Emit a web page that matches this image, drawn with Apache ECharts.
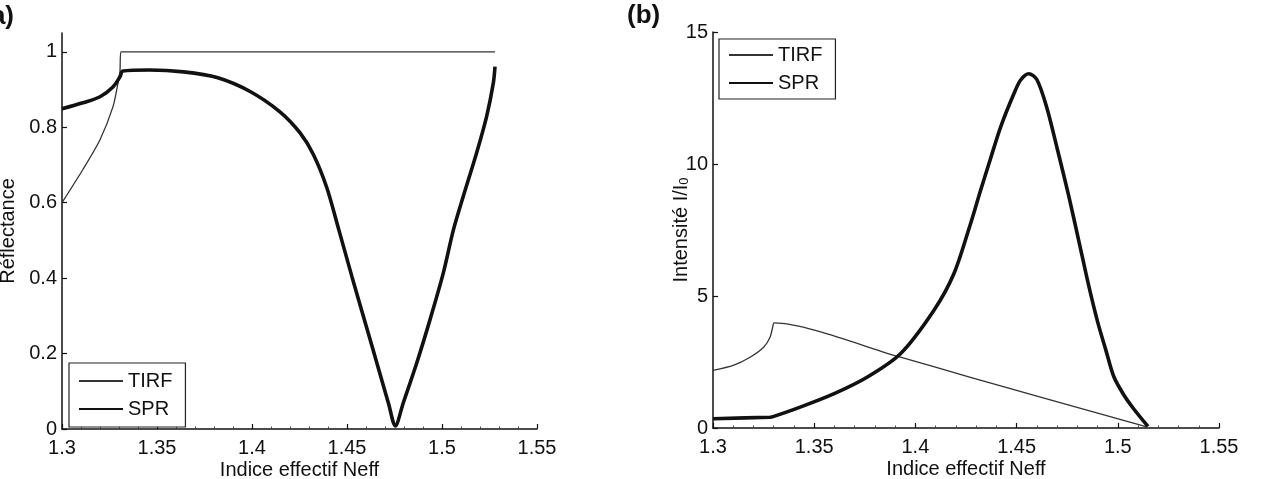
<!DOCTYPE html>
<html>
<head>
<meta charset="utf-8">
<script src="https://cdn.jsdelivr.net/npm/echarts@6/dist/echarts.min.js"></script>
<style>
html,body{margin:0;padding:0;background:#fff;}
#chart{width:1270px;height:479px;}
</style>
</head>
<body>
<div id="chart"></div>
<script>
// Panel (a): Réflectance
var tirfA_x = [1.300, 1.311, 1.320, 1.3268, 1.3295, 1.3305, 1.331, 1.400, 1.5279];
var tirfA_y = [0.600, 0.688, 0.767, 0.854, 0.918, 0.947, 1.000, 1.000, 1.000];
var sprA_x = [1.300, 1.311, 1.320, 1.3268, 1.3305, 1.332, 1.346, 1.364, 1.3816, 1.399, 1.4147, 1.4253, 1.4323, 1.4393, 1.4456, 1.4526, 1.4596, 1.4667, 1.4720, 1.4754, 1.4796, 1.4867, 1.4937, 1.5007, 1.5060, 1.5112, 1.5182, 1.5235, 1.5270, 1.5279];
var sprA_y = [0.849, 0.865, 0.881, 0.907, 0.934, 0.949, 0.952, 0.947, 0.932, 0.895, 0.841, 0.785, 0.728, 0.641, 0.530, 0.404, 0.282, 0.158, 0.065, 0.008, 0.069, 0.175, 0.290, 0.414, 0.528, 0.617, 0.732, 0.829, 0.917, 0.961];
// Panel (b): Intensité
var tirfB_x = [1.300, 1.310, 1.3183, 1.325, 1.3282, 1.3295, 1.3302, 1.3926, 1.4272, 1.5139];
var tirfB_y = [2.18, 2.37, 2.68, 3.06, 3.44, 3.82, 3.98, 2.68, 1.92, 0.05];
var sprB_x = [1.300, 1.3282, 1.3297, 1.3431, 1.3596, 1.3761, 1.3926, 1.4091, 1.4190, 1.4272, 1.4320, 1.4371, 1.4421, 1.4486, 1.4520, 1.4560, 1.4600, 1.4649, 1.4703, 1.4757, 1.4807, 1.4856, 1.4901, 1.4941, 1.4980, 1.5030, 1.5079, 1.5149];
var sprB_y = [0.35, 0.41, 0.43, 0.79, 1.29, 1.92, 2.81, 4.45, 5.84, 7.73, 8.95, 10.20, 11.40, 12.65, 13.18, 13.42, 13.20, 12.14, 10.51, 8.81, 7.10, 5.40, 4.00, 2.95, 1.95, 1.25, 0.72, 0.06];

var xTicks = [1.3, 1.35, 1.4, 1.45, 1.5, 1.55];
var yTicksA = [0, 0.2, 0.4, 0.6, 0.8, 1];
var yTicksB = [0, 5, 10, 15];
var seriesNames = ['TIRF', 'SPR'];

function pairs(xs, ys){ return xs.map(function(x,i){ return [x, ys[i]]; }); }

var FONT = 'Liberation Sans, Arial, Helvetica, sans-serif';
var INK = '#111';
var FS = 20;

function xAxis(gi){
  return {
    type:'value', gridIndex:gi, min:1.3, max:1.55, interval:0.05,
    axisLine:{lineStyle:{color:INK, width:1.5}},
    axisTick:{inside:true, length:5, lineStyle:{color:INK, width:1.2}},
    minorTick:{show:true, splitNumber:5, length:2.5, lineStyle:{color:'#444', width:1}},
    splitLine:{show:false},
    axisLabel:{fontSize:FS, color:INK, fontFamily:FONT, margin:9,
      formatter:function(v){ return String(+(+v).toFixed(2)); }},
    name:'Indice effectif Neff', nameLocation:'middle', nameGap:31, nameMoveOverlap:false,
    nameTextStyle:{fontSize:FS, color:INK, fontFamily:FONT}
  };
}

var option = {
  animation:false,
  backgroundColor:'#fff',
  textStyle:{fontFamily:FONT},
  grid:[
    {left:62, top:33, width:475, height:396, outerBoundsMode:'none', containLabel:false},
    {left:713, top:32, width:506, height:396, outerBoundsMode:'none', containLabel:false}
  ],
  xAxis:[xAxis(0), xAxis(1)],
  yAxis:[
    {type:'value', gridIndex:0, min:0, max:1.05,
     axisLine:{show:true, lineStyle:{color:INK, width:1.5}},
     axisTick:{show:true, inside:true, length:5, customValues:yTicksA, lineStyle:{color:INK, width:1.2}},
     splitLine:{show:false},
     axisLabel:{fontSize:FS, color:INK, fontFamily:FONT, margin:5, customValues:yTicksA,
       formatter:function(v){ return String(+(+v).toFixed(2)); }},
     name:'Réflectance', nameLocation:'middle', nameGap:44, nameMoveOverlap:false,
     nameTextStyle:{fontSize:FS, color:INK, fontFamily:FONT}},
    {type:'value', gridIndex:1, min:0, max:15, interval:5,
     axisLine:{show:true, lineStyle:{color:INK, width:1.5}},
     axisTick:{show:true, inside:true, length:5, customValues:yTicksB, lineStyle:{color:INK, width:1.2}},
     splitLine:{show:false},
     axisLabel:{fontSize:FS, color:INK, fontFamily:FONT, margin:5, customValues:yTicksB},
     name:'Intensité I/I{s|0}', nameLocation:'middle', nameGap:22, nameMoveOverlap:false,
     nameTextStyle:{fontSize:FS, color:INK, fontFamily:FONT,
       rich:{s:{fontSize:13, color:INK, fontFamily:FONT, verticalAlign:'bottom', padding:[6,0,0,0]}}}}
  ],
  legend:[
    {left:69, top:363, orient:'vertical', data:seriesNames, itemWidth:44, itemHeight:14, itemGap:8,
     padding:[8,13,8,9], borderColor:'#222', borderWidth:1.2, backgroundColor:'#fff',
     itemStyle:{color:'rgba(0,0,0,0)', borderWidth:0, opacity:0},
     textStyle:{fontSize:FS, color:INK, fontFamily:FONT}, selectedMode:false},
    {left:719, top:39, orient:'vertical', data:seriesNames, itemWidth:44, itemHeight:14, itemGap:8,
     padding:[6,13,6,9], borderColor:'#222', borderWidth:1.2, backgroundColor:'#fff',
     itemStyle:{color:'rgba(0,0,0,0)', borderWidth:0, opacity:0},
     textStyle:{fontSize:FS, color:INK, fontFamily:FONT}, selectedMode:false}
  ],
  graphic:[
    {type:'text', right:1270-14, top:4, style:{text:'(a)', font:'bold 26px ' + FONT, fill:INK}},
    {type:'text', left:627, top:3, style:{text:'(b)', font:'bold 26px ' + FONT, fill:INK}}
  ],
  series:[
    {name:'TIRF', type:'line', xAxisIndex:0, yAxisIndex:0, data:pairs(tirfA_x, tirfA_y),
     symbol:'none', smooth:0.25, lineStyle:{color:'#333', width:1.3}, itemStyle:{color:'#333'}, z:3},
    {name:'SPR', type:'line', xAxisIndex:0, yAxisIndex:0, data:pairs(sprA_x, sprA_y),
     symbol:'none', smooth:0.3, lineStyle:{color:INK, width:3.6}, itemStyle:{color:INK}, z:4},
    {name:'TIRF', type:'line', xAxisIndex:1, yAxisIndex:1, data:pairs(tirfB_x, tirfB_y),
     symbol:'none', smooth:0.25, lineStyle:{color:'#333', width:1.3}, itemStyle:{color:'#333'}, z:3},
    {name:'SPR', type:'line', xAxisIndex:1, yAxisIndex:1, data:pairs(sprB_x, sprB_y),
     symbol:'none', smooth:0.3, lineStyle:{color:INK, width:3.6}, itemStyle:{color:INK}, z:4}
  ]
};

var chart = echarts.init(document.getElementById('chart'), null, {renderer:'canvas'});
chart.setOption(option);
</script>
</body>
</html>
